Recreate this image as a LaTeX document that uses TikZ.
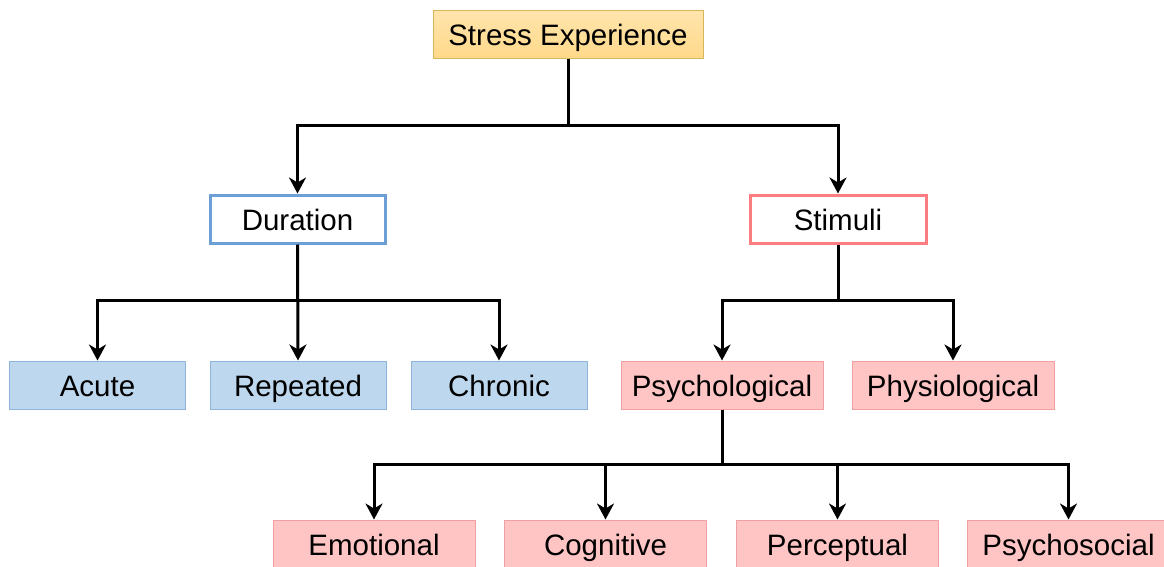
\documentclass[tikz,border=0pt]{standalone}
\usepackage{fontspec}
\setmainfont{Liberation Sans}
\usetikzlibrary{arrows.meta}
\definecolor{topfill}{HTML}{FFD98A}
\definecolor{topline}{HTML}{D6B656}
\definecolor{durline}{HTML}{6C9FD6}
\definecolor{stimline}{HTML}{FF7C80}
\definecolor{bluefill}{HTML}{BDD7EE}
\definecolor{blueline}{HTML}{8EB4DA}
\definecolor{pinkfill}{HTML}{FFC4C4}
\definecolor{pinkline}{HTML}{F0A0A0}
\tikzset{
  x=1pt, y=-1pt,
  box/.style={minimum height=48pt, inner sep=0pt, text height=22pt, text depth=0pt,
    font=\fontsize{29.5}{34}\selectfont, text=black},
  rootbox/.style={box, minimum width=270pt, top color=topfill!70!white, bottom color=topfill, draw=topline, line width=1pt},
  durbox/.style={box, minimum width=175pt, fill=white, draw=durline, line width=3pt},
  stimbox/.style={box, minimum width=176pt, fill=white, draw=stimline, line width=3pt},
  bluebox/.style={box, minimum width=176pt, fill=bluefill, draw=blueline, line width=1pt},
  pinkbox/.style={box, minimum width=202pt, fill=pinkfill, draw=pinkline, line width=1pt},
  link/.style={line width=3pt, -{Stealth[length=16pt, width=17pt, inset=5pt]}},
}
\begin{document}
\begin{tikzpicture}
\useasboundingbox (0,0) rectangle (1164,566);
\clip (0,0) rectangle (1164,566);
\fill[white] (0,0) rectangle (1164,566);

% top level
\node[rootbox] (root) at (568,34) {Stress Experience};

% second level
\node[durbox]  (dur)  at (297.5,219) {Duration};
\node[stimbox] (stim) at (838,219) {Stimuli};

% duration branch
\node[bluebox] (acute)    at (97.5,385) {Acute};
\node[bluebox] (repeated) at (298,385)  {Repeated};
\node[bluebox] (chronic)  at (499,385)  {Chronic};

% stimuli branch
\node[pinkbox] (psych) at (722,385) {Psychological};
\node[pinkbox] (phys)  at (953,385) {Physiological};

% psychological branch
\node[pinkbox] (emo)  at (374,544)  {Emotional};
\node[pinkbox] (cog)  at (605.5,544) {Cognitive};
\node[pinkbox] (perc) at (837.5,544) {Perceptual};
\node[pinkbox] (psoc) at (1068.5,544) {Psychosocial};

% connectors
\draw[link] (root.south) |- (297.5,125) -- (dur.north);
\draw[link] (root.south) |- (838,125) -- (stim.north);

\draw[link] (dur.south) |- (97.5,300) -- (acute.north);
\draw[link] (dur.south) -- (repeated.north);
\draw[link] (dur.south) |- (499,300) -- (chronic.north);

\draw[link] (stim.south) |- (722,300) -- (psych.north);
\draw[link] (stim.south) |- (953,300) -- (phys.north);

\draw[link] (psych.south) |- (374,464) -- (emo.north);
\draw[link] (psych.south) |- (605.5,464) -- (cog.north);
\draw[link] (psych.south) |- (837.5,464) -- (perc.north);
\draw[link] (psych.south) |- (1068.5,464) -- (psoc.north);
\end{tikzpicture}
\end{document}
